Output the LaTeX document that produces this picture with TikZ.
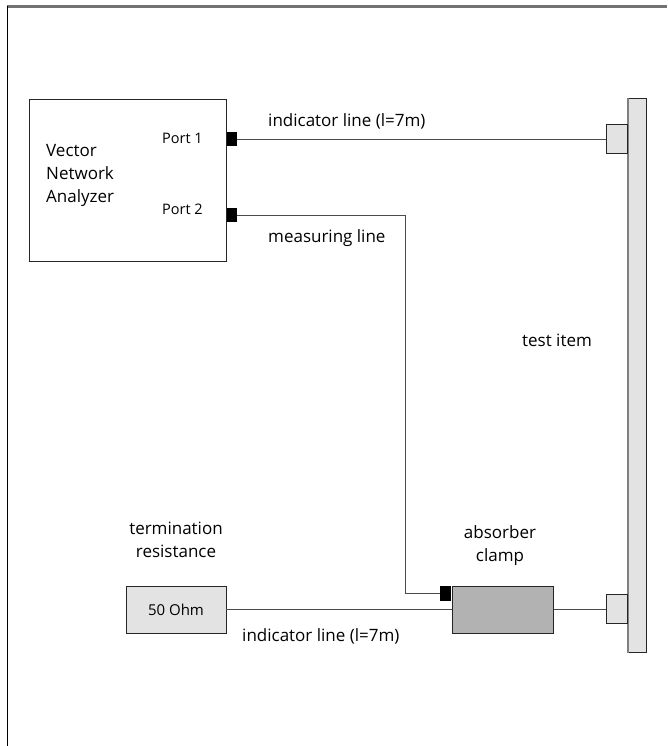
\documentclass[tikz,border=0pt]{standalone}
\usepackage{fontspec}
\setmainfont{Open Sans}
\usetikzlibrary{positioning}

\begin{document}
\begin{tikzpicture}[
    x=1pt, y=-1pt,
    font=\fontsize{17}{23}\selectfont,
    % node styles
    device/.style={rectangle, draw=black!85, line width=0.8pt, minimum width=197pt, minimum height=162pt, inner sep=0pt},
    port/.style={rectangle, fill=black, minimum width=10pt, minimum height=14pt, inner sep=0pt},
    plate/.style={rectangle, draw=black!85, fill=black!11, line width=1pt, minimum width=18pt, minimum height=553pt, inner sep=0pt},
    connbox/.style={rectangle, draw=black!85, fill=black!11, line width=1pt, minimum width=21pt, minimum height=29pt, inner sep=0pt},
    clampbox/.style={rectangle, draw=black!85, fill=black!30, line width=1pt, minimum width=101pt, minimum height=47pt, inner sep=0pt},
    loadbox/.style={rectangle, draw=black!85, fill=black!11, line width=0.8pt, minimum width=100pt, minimum height=47pt, inner sep=0pt, font=\fontsize{15}{18}\selectfont},
    lbl/.style={align=center, inner sep=0pt},
    small/.style={font=\fontsize{14.5}{17}\selectfont},
    % line styles
    cable/.style={draw=black!70, line width=0.9pt}
]
\useasboundingbox (0,0) rectangle (667,746);

% frame
\draw[black!55, line width=2.5pt] (7,6.5) -- (667,6.5);
\draw[black, line width=1.2pt] (7.6,6) -- (7.6,746);

% analyzer with ports
\node[device, anchor=north west] (vna) at (29,99) {};
\node[lbl, anchor=west, align=left] (vnatxt) at (46,175) {Vector\\Network\\Analyzer};
\node[port, anchor=west] (port1) at (vna.east |- 0,139) {};
\node[port, anchor=west] (port2) at (vna.east |- 0,215) {};
\node[lbl, small, anchor=east] (p1txt) at (203,138.5) {Port 1};
\node[lbl, small, anchor=east] (p2txt) at (203,209) {Port 2};

% test item
\node[plate] (item) at (637,375.5) {};
\draw[black!50, line width=2pt] (item.north west) -- (item.south west);
\node[connbox, anchor=east] (conn1) at (item.west |- 0,139.5) {};
\node[connbox, anchor=east] (conn2) at (item.west |- 0,609) {};
\node[lbl] (itemtxt) at (557,340) {test item};

% absorber clamp and termination
\node[clampbox] (clamp) at (502.5,609.5) {};
\node[port, minimum width=11pt, minimum height=15pt, anchor=north east] (cport) at (clamp.north west) {};
\node[lbl] (clamptxt) at (500,546) {absorber\\clamp};
\node[loadbox] (load) at (176,609.5) {50 Ohm};
\node[lbl] (loadtxt) at (176,540) {termination\\resistance};

% cables
\coordinate (mbend) at (405.5,215);
\draw[cable] (port1.east) -- (port1.east -| conn1.west);
\draw[cable] (port2.east) -- (mbend) |- (cport.west);
\draw[cable] (load.east) -- (clamp.west);
\draw[cable] (clamp.east) -- (clamp.east -| conn2.west);

% cable labels
\node[lbl, anchor=west] (toptxt) at (268,121) {indicator line (l=7m)};
\node[lbl, anchor=west] (meastxt) at (268,238) {measuring line};
\node[lbl, anchor=west] (bottxt) at (242,636) {indicator line (l=7m)};

\end{tikzpicture}
\end{document}
